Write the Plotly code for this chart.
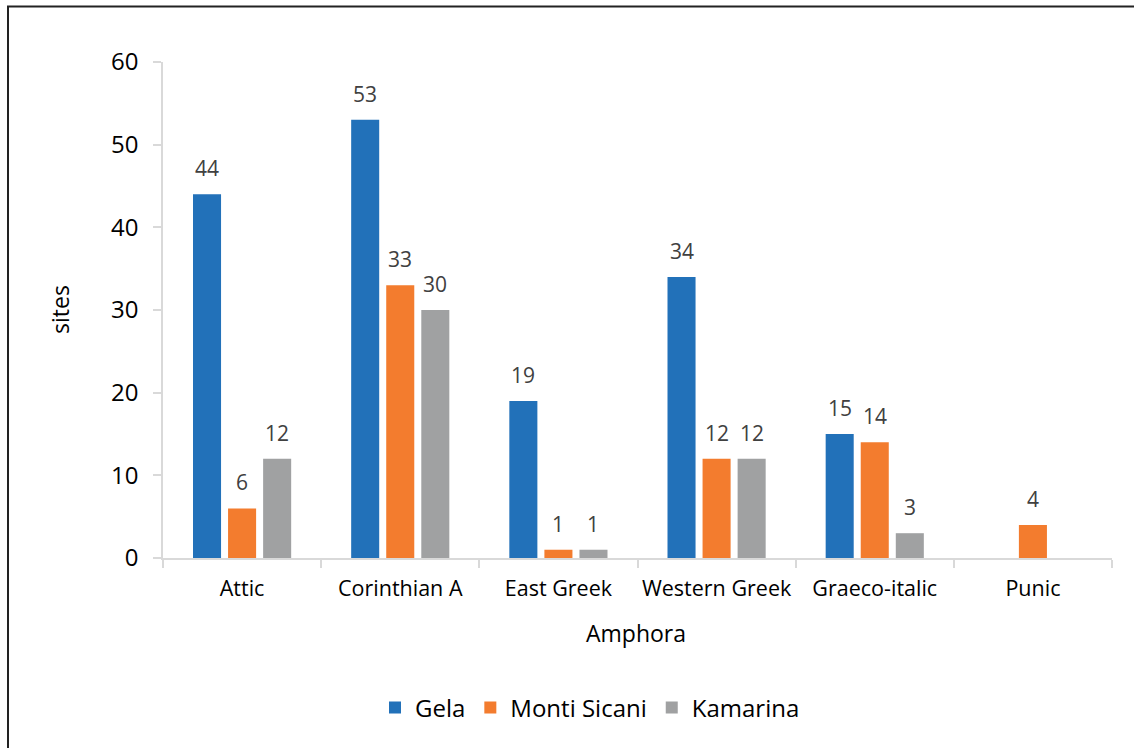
import plotly.graph_objects as go

# Amphora types and number of sites per area
categories = ["Attic", "Corinthian A", "East Greek", "Western Greek", "Graeco-italic", "Punic"]
gela = [44, 53, 19, 34, 15, None]
monti_sicani = [6, 33, 1, 12, 14, 4]
kamarina = [12, 30, 1, 12, 3, None]

series = [
    ("Gela", gela, "#2271B9"),
    ("Monti Sicani", monti_sicani, "#F37C2E"),
    ("Kamarina", kamarina, "#A0A1A2"),
]

W, H = 1134, 748
M_L, M_R, M_T, M_B = 163, 22, 62, 190
plot_w = W - M_L - M_R
plot_h = H - M_T - M_B
BARGAP = 0.335
BARGROUPGAP = 0.2
FONT = "Open Sans"

fig = go.Figure()
for name, vals, color in series:
    fig.add_trace(go.Bar(
        x=categories, y=vals, name=name,
        marker=dict(color=color, line=dict(width=0)),
    ))

# value labels above each bar, shifted to the bar's slot within its group
cat_px = plot_w / len(categories)
slot_px = cat_px * (1 - BARGAP) / len(series)
annotations = []
for i, (name, vals, color) in enumerate(series):
    shift = (i - (len(series) - 1) / 2) * slot_px
    for cat, v in zip(categories, vals):
        if v is None:
            continue
        annotations.append(dict(
            x=cat, y=v, xref="x", yref="y", text=str(v), showarrow=False,
            xshift=shift, yshift=26, yanchor="middle",
            font=dict(family=FONT, size=21, color="#404040"),
        ))

def px_x(p):
    return (p - M_L) / plot_w

def px_y(p):
    return (H - M_B - p) / plot_h

# axis titles
annotations.append(dict(
    x=px_x(60), y=px_y(310), xref="paper", yref="paper", text="sites",
    textangle=-90, showarrow=False, xanchor="center", yanchor="middle",
    font=dict(family=FONT, size=23, color="#000000"),
))
annotations.append(dict(
    x=px_x(636), y=px_y(633), xref="paper", yref="paper", text="Amphora",
    showarrow=False, xanchor="center", yanchor="middle",
    font=dict(family=FONT, size=23, color="#000000"),
))

fig.update_layout(
    width=W, height=H,
    margin=dict(l=M_L, r=M_R, t=M_T, b=M_B),
    paper_bgcolor="white", plot_bgcolor="white",
    barmode="group", bargap=BARGAP, bargroupgap=BARGROUPGAP,
    font=dict(family=FONT, color="#000000"),
    annotations=annotations,
    legend=dict(
        orientation="h", x=px_x(590), y=px_y(708), xanchor="center", yanchor="middle",
        font=dict(family=FONT, size=24, color="#000000"),
        itemwidth=30, traceorder="normal",
    ),
    shapes=[dict(
        type="rect", xref="paper", yref="paper",
        x0=px_x(8), y0=px_y(760), x1=px_x(1150), y1=px_y(6.5),
        line=dict(color="#222222", width=2), fillcolor="rgba(0,0,0,0)",
    )],
)

fig.update_yaxes(
    range=[0, 60], dtick=10, showgrid=False, zeroline=False,
    showline=True, linecolor="#D9D9D9", linewidth=1.5,
    ticks="outside", ticklen=8, tickcolor="#D9D9D9", tickwidth=1.5,
    ticklabelstandoff=10,
    tickfont=dict(family=FONT, size=24, color="#000000"),
)
fig.update_xaxes(
    showgrid=False, zeroline=False,
    showline=True, linecolor="#D9D9D9", linewidth=1.5,
    ticks="outside", ticklen=8, tickcolor="#D9D9D9", tickwidth=1.5,
    tickson="boundaries", tickangle=0, ticklabelstandoff=10,
    tickfont=dict(family=FONT, size=21.5, color="#000000"),
)

fig.write_html("out.html")
